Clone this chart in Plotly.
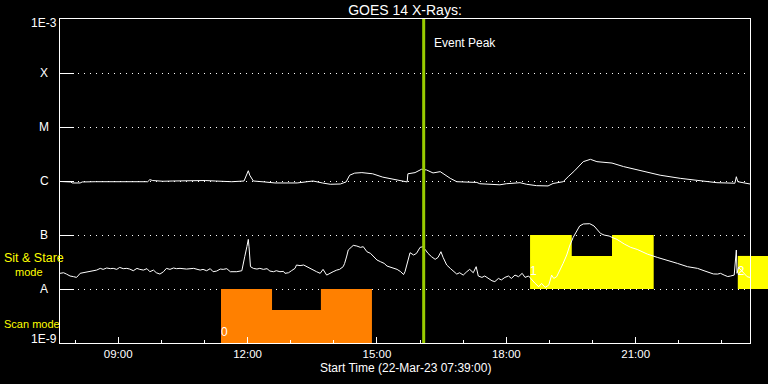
import math
import plotly.graph_objects as go

DAY = "2023-03-22 "
X_START = "07:39"
X_END = "23:39"

# GOES 14 long channel (1-8 A), W/m^2
long_time = ["07:39","07:54","07:56","08:07","08:10","08:28","09:41","09:44","09:48","10:02",
             "10:16","10:33","10:47","11:01","11:15","11:38","11:55","11:58","12:01","12:03",
             "12:08","12:24","12:38","13:09","13:23","13:31","13:44","13:55","14:09","14:17",
             "14:22","14:29","14:39","14:54","15:08","15:27","15:39","15:42","15:43","15:53",
             "16:02","16:09","16:18","16:28","16:42","16:51","17:19","17:23","17:51","18:00",
             "18:19","18:28","18:42","18:58","19:05","19:19","19:26","19:35","19:47","19:57",
             "20:06","20:27","20:43","21:11","21:34","22:02","22:30","22:53","23:18","23:20",
             "23:22","23:39"]
long_flux = [9.8e-7,9.6e-7,9.2e-7,9.2e-7,9.6e-7,9.7e-7,9.7e-7,1.06e-6,1.02e-6,9.9e-7,
             1.0e-6,1.01e-6,9.9e-7,1.02e-6,1.0e-6,9.7e-7,1.0e-6,1.23e-6,1.55e-6,1.28e-6,
             1.0e-6,9.6e-7,9.2e-7,9.2e-7,9.8e-7,1.0e-6,9.2e-7,8.7e-7,8.8e-7,9.6e-7,
             1.28e-6,1.4e-6,1.43e-6,1.36e-6,1.18e-6,1.05e-6,9.6e-7,9.6e-7,1.36e-6,1.43e-6,
             1.65e-6,1.6e-6,1.41e-6,1.49e-6,1.12e-6,9.7e-7,9.4e-7,8.9e-7,8.5e-7,8.9e-7,
             9.3e-7,8.7e-7,8.2e-7,8.1e-7,9.0e-7,9.7e-7,1.2e-6,1.55e-6,2.28e-6,2.52e-6,
             2.28e-6,2.15e-6,1.85e-6,1.49e-6,1.28e-6,1.12e-6,1.0e-6,9.3e-7,9.1e-7,1.2e-6,
             9.7e-7,8.8e-7]

# GOES 14 short channel (0.5-4 A), in units of 1e-8 W/m^2
short_time = ["07:39","07:44","07:48","07:53","07:58","08:02","08:05","08:07","08:11","08:16",
              "08:21","08:25","08:30","08:35","08:39","08:44","08:49","08:53","08:58","09:02",
              "09:07","09:12","09:16","09:21","09:26","09:30","09:35","09:40","09:44","09:49",
              "09:53","09:58","10:03","10:07","10:12","10:17","10:21","10:26","10:35","10:45",
              "10:54","10:58","11:03","11:08","11:12","11:17","11:22","11:26","11:31","11:36",
              "11:45","11:52","11:54","11:56","11:59","12:01","12:02","12:04","12:08","12:13",
              "12:17","12:22","12:27","12:31","12:36","12:40","12:45","12:50","12:52","12:57",
              "13:01","13:06","13:08","13:13","13:18","13:22","13:27","13:31","13:36","13:41",
              "13:45","13:50","13:55","13:59","14:04","14:08","14:13","14:15","14:18","14:20",
              "14:24","14:27","14:32","14:37","14:41","14:46","14:51","14:56","15:00","15:05",
              "15:10","15:14","15:19","15:24","15:28","15:33","15:37","15:39","15:42","15:46",
              "15:51","15:55","16:00","16:04","16:07","16:11","16:16","16:21","16:25","16:29",
              "16:32","16:37","16:42","16:46","16:51","16:55","17:00","17:05","17:09","17:14",
              "17:18","17:21","17:26","17:30","17:35","17:40","17:44","17:49","17:53","17:58",
              "18:03","18:07","18:12","18:17","18:22","18:26","18:31","18:36","18:40","18:45",
              "18:49","18:54","18:59","19:03","19:06","19:10","19:15","19:19","19:24","19:28",
              "19:33","19:38","19:42","19:47","19:52","19:56","20:02","20:07","20:11","20:16",
              "20:23","20:27","20:34","20:44","20:53","21:02","21:16","21:30","21:44","21:58",
              "22:12","22:26","22:35","22:40","22:44","22:48","22:54","22:58","23:03","23:08",
              "23:12","23:17","23:20","23:21","23:23","23:28","23:35","23:39"]
short_flux_e8 = [1.95,2.00,1.89,1.74,1.69,1.64,1.81,1.95,2.00,2.05,
                 2.09,2.15,2.24,2.41,2.31,2.45,2.38,2.41,2.31,2.51,
                 2.38,2.41,2.34,2.18,2.41,2.31,2.24,2.38,2.09,2.24,
                 2.00,1.89,2.09,2.41,2.31,2.45,2.38,2.41,2.34,2.41,
                 2.24,2.31,2.18,2.38,2.09,2.15,2.34,2.31,2.38,2.09,
                 2.09,2.18,2.78,3.96,6.07,8.30,6.07,2.59,2.41,2.34,
                 2.41,2.31,2.38,2.15,2.09,2.18,2.09,2.12,1.95,2.00,
                 2.18,2.41,2.78,2.71,2.78,2.59,2.41,2.24,2.09,1.95,
                 2.31,1.81,2.00,2.09,2.24,2.31,2.59,2.98,4.08,5.27,
                 5.90,6.43,6.25,5.90,6.07,4.90,4.57,3.96,3.44,3.20,
                 2.98,2.66,2.52,2.41,2.31,2.09,1.85,2.09,2.98,4.70,
                 4.26,4.57,5.90,6.07,5.41,4.57,3.96,3.54,3.85,4.90,
                 3.85,2.78,2.41,2.18,1.89,2.00,1.81,2.09,2.31,2.00,
                 2.59,1.74,1.64,1.74,1.57,1.42,1.37,1.57,1.47,1.64,
                 1.74,1.57,1.81,1.69,1.95,1.64,1.74,1.42,1.27,1.10,
                 1.27,1.07,1.18,1.81,1.57,1.69,2.24,2.98,4.26,6.25,
                 9.04,12.3,14.7,16.0,16.4,16.2,14.7,12.3,10.7,9.98,
                 9.57,9.04,8.29,6.81,5.90,5.41,4.44,3.85,3.44,2.98,
                 2.59,2.41,2.18,2.05,2.00,1.90,1.89,1.95,1.81,1.70,
                 1.74,1.81,5.27,1.95,2.52,2.09,1.69,1.64]

# Instrument mode blocks
scan_edges = ["11:23", "12:34", "13:42", "14:53"]
scan_levels = [1e-8, 4.1e-9, 1e-8]
scan_base = 1e-9
stare_edges = ["18:33", "19:31", "20:27", "21:25"]
stare_levels = [1e-7, 4.1e-8, 1e-7]
stare_base = 1e-8
stare2_edges = ["23:22", "23:59"]
stare2_levels = [4.1e-8]

mode_label_time = ["11:23", "18:33", "23:22"]
mode_label_flux = [1.5e-9, 2.1e-8, 2.1e-8]
mode_labels = ["0", "1", "2"]

event_peak = "16:05"

class_vals = [1e-3, 1e-4, 1e-5, 1e-6, 1e-7, 1e-8, 1e-9]
class_text = ["1E-3", "X", "M", "C", "B", "A", "1E-9"]

ORANGE = "#ff8000"
YELLOW = "#ffff00"
GREEN = "#99cc00"
FONT = "Liberation Sans"


def ts(lst):
    return [DAY + t for t in lst]


def block_polygon(edges, levels, base):
    xs = [edges[0]]
    ys = [base]
    for i, lv in enumerate(levels):
        xs += [edges[i], edges[i + 1]]
        ys += [lv, lv]
    xs.append(edges[-1])
    ys.append(base)
    return ts(xs), ys


fig = go.Figure()

for edges, levels, base, col in [(scan_edges, scan_levels, scan_base, ORANGE),
                                 (stare_edges, stare_levels, stare_base, YELLOW),
                                 (stare2_edges, stare2_levels, stare_base, YELLOW)]:
    px_, py_ = block_polygon(edges, levels, base)
    fig.add_trace(go.Scatter(x=px_, y=py_, mode="lines", fill="toself", fillcolor=col,
                             line=dict(width=0, color=col), hoverinfo="skip"))

fig.add_trace(go.Scatter(x=ts(long_time), y=long_flux, mode="lines",
                         line=dict(color="white", width=1)))
fig.add_trace(go.Scatter(x=ts(short_time), y=[v * 1e-8 for v in short_flux_e8], mode="lines",
                         line=dict(color="white", width=1)))

fig.add_trace(go.Scatter(x=ts(mode_label_time), y=mode_label_flux, mode="text",
                         text=mode_labels, textposition="middle right",
                         textfont=dict(family=FONT, size=12, color="white"),
                         cliponaxis=False))

# overflow of the last Sit & Stare block past the right frame
fig.add_shape(type="rect", xref="paper", yref="y", x0=1, x1=1.1,
              y0=stare_base, y1=stare2_levels[0], fillcolor=YELLOW, line=dict(width=0),
              layer="below")

# event peak line
fig.add_shape(type="line", xref="x", yref="paper", x0=DAY + event_peak, x1=DAY + event_peak,
              y0=0, y1=1, line=dict(color=GREEN, width=3), layer="above")
fig.add_annotation(x=DAY + event_peak, xref="x", y=0.926, yref="paper", text="Event Peak",
                   showarrow=False, xanchor="left", yanchor="middle", xshift=8,
                   font=dict(family=FONT, size=12, color="white"))

# class labels
for v, t in zip(class_vals, class_text):
    ys = -4 if t == "1E-3" else (4 if t == "1E-9" else 0)
    fig.add_annotation(x=0, xref="paper", xshift=-16, y=math.log10(v), yref="y",
                       yshift=ys, text=t, showarrow=False, xanchor="center", yanchor="middle",
                       font=dict(family=FONT, size=12, color="white"))

# mode annotations
fig.add_annotation(x=0, xref="paper", xshift=-58, y=0.262, yref="paper", text="Sit & Stare",
                   showarrow=False, xanchor="left", yanchor="middle",
                   font=dict(family=FONT, size=12.5, color=YELLOW))
fig.add_annotation(x=0, xref="paper", xshift=-47, y=0.220, yref="paper", text="mode",
                   showarrow=False, xanchor="left", yanchor="middle",
                   font=dict(family=FONT, size=11, color=YELLOW))
fig.add_annotation(x=0, xref="paper", xshift=-58, y=0.058, yref="paper", text="Scan mode",
                   showarrow=False, xanchor="left", yanchor="middle",
                   font=dict(family=FONT, size=11, color=YELLOW))

# x axis title
fig.add_annotation(x=0.5, xref="paper", y=-0.077, yref="paper",
                   text="Start Time (22-Mar-23 07:39:00)", showarrow=False,
                   xanchor="center", yanchor="middle",
                   font=dict(family=FONT, size=12, color="white"))

fig.update_layout(
    width=768, height=384,
    paper_bgcolor="black", plot_bgcolor="black",
    margin=dict(l=60, r=18, t=19, b=41),
    showlegend=False,
    font=dict(family=FONT, color="white", size=12),
    title=dict(text="GOES 14 X-Rays:", x=0.5, xref="paper", xanchor="center",
               y=1 - 10 / 384, yref="container", yanchor="middle",
               font=dict(family=FONT, size=14, color="white")),
)

fig.update_xaxes(
    type="date", range=[DAY + X_START, DAY + X_END],
    tick0=DAY + "09:00", dtick=3 * 3600 * 1000, tickformat="%H:%M",
    ticks="inside", ticklen=6, tickcolor="white", tickwidth=1,
    tickfont=dict(family=FONT, size=11.5, color="white"),
    showline=True, linecolor="white", linewidth=1, mirror=True,
    showgrid=False, zeroline=False, layer="above traces",
    minor=dict(dtick=3600 * 1000, tick0=DAY + "08:00", ticks="inside", ticklen=3,
               tickcolor="white", showgrid=False),
)
fig.update_yaxes(
    type="log", range=[-9, -3],
    tickvals=[1e-8, 1e-7, 1e-6, 1e-5, 1e-4], showticklabels=False,
    ticks="inside", ticklen=14, tickcolor="white", tickwidth=1,
    showline=True, linecolor="white", linewidth=1, mirror=True,
    showgrid=True, gridcolor="white", gridwidth=1, griddash="1px,5px",
    zeroline=False, layer="above traces",
)

fig.write_html("out.html", config={"displayModeBar": False},
               post_script="document.body.style.margin='0';document.body.style.background='black';")
